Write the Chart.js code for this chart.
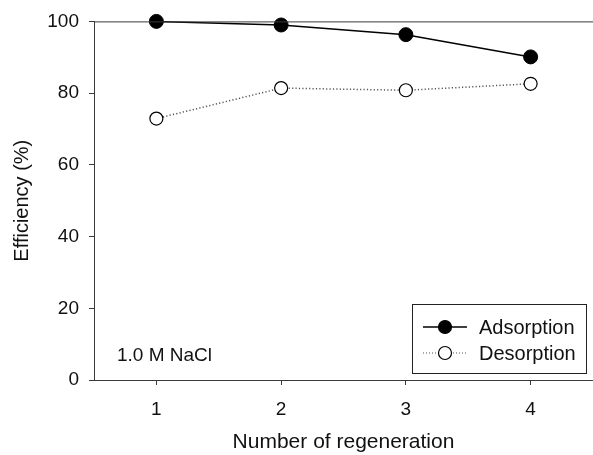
<!DOCTYPE html>
<html>
<head>
<meta charset="utf-8">
<script src="https://cdn.jsdelivr.net/npm/chart.js@4.4.1/dist/chart.umd.min.js"></script>
<style>
  html, body { margin: 0; padding: 0; background: #fff; }
  #wrap { width: 593px; height: 455px; }
</style>
</head>
<body>
<div id="wrap"><canvas id="c" width="593" height="455"></canvas></div>
<script>
const cycles = [1, 2, 3, 4];
const adsorption = [100, 99, 96.3, 90.1];
const desorption = [72.9, 81.4, 80.8, 82.6];
const yTicks = [0, 20, 40, 60, 80, 100];
const seriesNames = ['Adsorption', 'Desorption'];
const xTitle = 'Number of regeneration';
const yTitle = 'Efficiency (%)';
const note = '1.0 M NaCl';

const FONT = "'Liberation Sans', Arial, sans-serif";
const AXIS = '#3a3a3a';

const extras = {
  id: 'extras',
  afterDraw(chart) {
    const ctx = chart.ctx;
    const a = chart.chartArea;
    ctx.save();
    // top frame line
    ctx.strokeStyle = AXIS;
    ctx.lineWidth = 1;
    ctx.beginPath();
    ctx.moveTo(a.left, a.top + 0.5);
    ctx.lineTo(a.right, a.top + 0.5);
    ctx.stroke();

    // note
    ctx.fillStyle = '#111';
    ctx.font = '19px ' + FONT;
    ctx.textAlign = 'left';
    ctx.textBaseline = 'alphabetic';
    ctx.fillText(note, a.left + 23, a.bottom - 19);

    // legend box
    const bx = 412.5, by = 304.5, bw = 174, bh = 69;
    ctx.strokeStyle = '#222';
    ctx.lineWidth = 1;
    ctx.strokeRect(bx, by, bw, bh);
    const rows = [
      {y: 327, name: seriesNames[0], filled: true},
      {y: 353, name: seriesNames[1], filled: false}
    ];
    rows.forEach(r => {
      ctx.beginPath();
      if (r.filled) {
        ctx.setLineDash([]);
        ctx.strokeStyle = '#000';
        ctx.lineWidth = 1.5;
      } else {
        ctx.setLineDash([1, 2]);
        ctx.strokeStyle = '#555';
        ctx.lineWidth = 1.2;
      }
      ctx.moveTo(423, r.y);
      ctx.lineTo(467, r.y);
      ctx.stroke();
      ctx.setLineDash([]);
      ctx.beginPath();
      ctx.arc(445, r.y, 6.5, 0, Math.PI * 2);
      ctx.fillStyle = r.filled ? '#000' : '#fff';
      ctx.fill();
      ctx.strokeStyle = '#000';
      ctx.lineWidth = 1.2;
      ctx.stroke();
      ctx.fillStyle = '#111';
      ctx.font = '20px ' + FONT;
      ctx.textBaseline = 'middle';
      ctx.fillText(r.name, 479, r.y + 1);
    });
    ctx.restore();
  }
};

new Chart(document.getElementById('c'), {
  type: 'line',
  data: {
    datasets: [
      {
        label: seriesNames[0],
        data: cycles.map((x, i) => ({x, y: adsorption[i]})),
        borderColor: '#000',
        borderWidth: 1.5,
        backgroundColor: '#000',
        pointBackgroundColor: '#000',
        pointBorderColor: '#000',
        pointRadius: 7,
        pointBorderWidth: 1,
        clip: false,
        tension: 0
      },
      {
        label: seriesNames[1],
        data: cycles.map((x, i) => ({x, y: desorption[i]})),
        borderColor: '#555',
        borderWidth: 1.5,
        borderDash: [1.2, 2.2],
        pointBackgroundColor: '#fff',
        pointBorderColor: '#000',
        pointBorderWidth: 1.2,
        pointRadius: 6.5,
        clip: false,
        tension: 0
      }
    ]
  },
  options: {
    responsive: false,
    animation: false,
    devicePixelRatio: 1,
    layout: { padding: { top: 20, right: 0, left: 0, bottom: 0 }, autoPadding: false },
    plugins: { legend: { display: false }, tooltip: { enabled: false } },
    scales: {
      x: {
        type: 'linear',
        min: 0.5,
        max: 4.5,
        afterBuildTicks: s => { s.ticks = cycles.map(v => ({value: v})); },
        afterFit: s => { s.height = 75; },
        border: { display: true, color: AXIS, width: 1 },
        grid: { display: true, drawOnChartArea: false, drawTicks: true, tickLength: 5, tickColor: AXIS },
        ticks: { color: '#111', font: { family: FONT, size: 19 }, padding: 13, maxRotation: 0 },
        title: { display: true, text: xTitle, color: '#111', font: { family: FONT, size: 21 }, padding: { top: 0, bottom: 0 } }
      },
      y: {
        type: 'linear',
        min: 0,
        max: 100,
        afterBuildTicks: s => { s.ticks = yTicks.map(v => ({value: v})); },
        afterFit: s => { s.width = 94; },
        border: { display: true, color: AXIS, width: 1 },
        grid: { display: true, drawOnChartArea: false, drawTicks: true, tickLength: 5, tickColor: AXIS },
        ticks: { color: '#111', font: { family: FONT, size: 19 }, padding: 10 },
        title: { display: true, text: yTitle, color: '#111', font: { family: FONT, size: 20 }, padding: { top: 10, bottom: 0 } }
      }
    }
  },
  plugins: [extras]
});
</script>
</body>
</html>
